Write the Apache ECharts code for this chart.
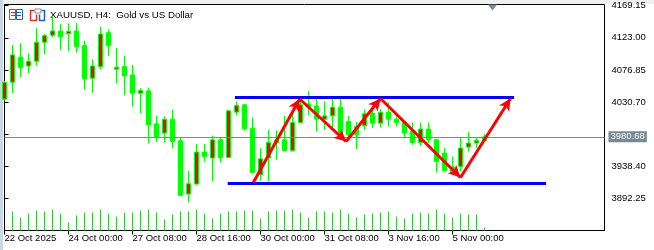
<!DOCTYPE html>
<html><head><meta charset="utf-8">
<script src="https://cdn.jsdelivr.net/npm/echarts@6/dist/echarts.min.js"></script>
<style>html,body{margin:0;padding:0;background:#fff}#c{width:654px;height:250px}</style>
</head><body><div id="c"></div>
<script>
// ---- bar times (H4) ----
const H6 = ['00:00','04:00','08:00','12:00','16:00','20:00'];
const sessions = [
  ['22 Oct', ['16:00','20:00']],
  ['23 Oct', H6], ['24 Oct', H6], ['27 Oct', H6], ['28 Oct', H6], ['29 Oct', H6],
  ['30 Oct', H6], ['31 Oct', H6], ['3 Nov', H6], ['4 Nov', H6],
  ['5 Nov', ['00:00','04:00','08:00','12:00','16:00']]
];
const futureSlots = 15;

// ---- OHLC ----
const opens  = [4034.9,4059.2,4095.1,4082.6,4089.4,4116.6,4126.7,4132.9,4129.0,4132.9,
                4111.8,4065.0,4081.6,4130.4,4077.9,4081.6,4069.7,4043.5,4046.8,3999.4,
                3986.1,4006.1,3975.0,3898.6,3912.9,3958.8,3950.2,3976.5,3951.1,4016.2,
                4026.7,3993.2,3926.3,3950.2,3972.0,3976.5,3961.1,4001.3,4028.0,4025.2,
                4006.1,4010.9,4023.4,4002.7,3995.6,3996.6,4014.8,4000.4,4016.2,4006.1,
                4001.3,3988.4,3972.6,3991.8,3976.5,3957.4,3937.3,3938.2,3966.0,3971.7,
                3975.5];
const closes = [4059.2,4098.4,4080.2,4089.4,4116.6,4126.1,4132.9,4124.7,4132.4,4110.3,
                4064.0,4082.6,4128.5,4111.8,4080.8,4068.3,4043.5,4047.2,3998.0,3980.3,
                4006.1,3974.0,3896.6,3913.3,3958.8,3952.5,3976.5,3951.1,4018.1,4025.7,
                3992.2,3929.6,3949.2,3972.6,3976.0,3961.1,4001.3,4026.7,4024.0,4006.1,
                4010.9,4023.4,3986.1,3983.6,3983.6,4013.8,4000.4,4016.2,4006.1,4001.3,
                3986.1,3972.6,3991.8,3976.5,3945.4,3932.4,3928.7,3964.6,3971.7,3975.5,
                3980.68];
const lows   = [4033.0,4043.5,4066.4,4072.2,4083.1,4099.4,4123.8,4105.6,4104.2,4101.7,
                4048.2,4044.3,4077.9,4097.0,4057.8,4041.0,4024.2,4014.8,3971.7,3973.6,
                3972.5,3964.0,3896.0,3886.5,3911.9,3945.3,3916.6,3943.9,3950.0,4012.3,
                3989.8,3929.0,3917.6,3916.6,3947.8,3960.0,3959.7,4000.4,4012.0,3988.4,
                3990.8,3991.8,3983.6,3980.8,3963.1,3990.8,3993.2,3994.1,3995.6,3995.6,
                3978.9,3969.3,3967.9,3971.7,3929.6,3931.0,3926.3,3930.5,3959.7,3964.6,
                3973.0];
const highs  = [4061.0,4112.8,4115.2,4100.9,4136.7,4128.5,4153.4,4142.9,4143.9,4144.8,
                4118.9,4092.2,4139.0,4135.3,4108.5,4097.0,4084.1,4050.6,4051.5,4010.9,
                4009.9,4019.5,3979.8,3932.0,3970.7,3970.7,3982.2,3980.3,4019.0,4031.4,
                4027.5,4008.5,3964.6,3990.8,3990.0,4010.9,4015.6,4036.3,4046.8,4039.6,
                4031.4,4035.3,4035.3,4010.9,4002.3,4019.5,4025.2,4020.9,4030.0,4009.9,
                4002.7,4001.3,4001.3,4001.3,3977.5,3964.6,3952.5,3979.8,3987.5,3978.9,
                3985.0];
// tick volumes (first bar hidden under the frame)
const volumes = [null,19000,13000,17000,20000,19000,21000,17000,8000,15000,
                 18000,18000,21000,17000,14000,18000,18000,20000,21000,18000,
                 11000,16000,19000,19000,21000,17000,12000,17000,19000,19000,
                 20000,20000,12000,19000,20000,20000,21000,18000,13000,19000,
                 19000,18000,21000,17000,13000,16000,17000,18000,19000,14000,
                 12000,17000,18000,17000,21000,17000,13000,17000,16000,16000,
                 3000];

// ---- axes text ----
const tickLabels = ['22 Oct 2025','24 Oct 00:00','27 Oct 08:00','28 Oct 16:00',
                    '30 Oct 00:00','31 Oct 08:00','3 Nov 16:00','5 Nov 00:00'];
const priceTicks = [3892.25,3938.40,3984.55,4030.70,4076.85,4123.00,4169.15];
const priceLabelValues = [3892.25,3938.40,4030.70,4076.85,4123.00,4169.15];
const currentPrice = 3980.68;
const title = 'XAUUSD, H4:  Gold vs US Dollar';

// ---- drawn objects (bar index, price) ----
const channelTop = [[28.8,4037.0],[63.7,4037.0]];
const channelBottom = [[27.9,3913.9],[67.7,3913.9]];
const zigzag = [[31.1,3915.1],[36.9,4035.1],[42.7,3974.0],[47.0,4035.8],[57.0,3922.3],[63.25,4035.8]];

// ---- build ----
const categories = [];
sessions.forEach(([d, hrs]) => hrs.forEach(h => categories.push(d + ' ' + h)));
for (let i = 0; i < futureSlots; i++) categories.push('');
const bars = opens.map((o, i) => [o, closes[i], lows[i], highs[i]]);
const tickShown = (i) => i % 8 === 0 && i / 8 < tickLabels.length;
const lastIndex = opens.length - 1;

const zigSegments = [];
for (let i = 0; i < zigzag.length - 1; i++) {
  zigSegments.push([{coord: zigzag[i], symbol: 'none'}, {coord: zigzag[i + 1], symbol: 'arrow'}]);
}

const hiddenAxis = {show: false, axisLine: {show: false}, axisTick: {show: false}, axisLabel: {show: false}, splitLine: {show: false}};
const FONT = 'Liberation Sans';
const chart = echarts.init(document.getElementById('c'), null, {renderer: 'canvas'});
chart.setOption({
  animation: false,
  backgroundColor: '#fff',
  grid: {left: 4.5, right: 49.5, top: 4.5, bottom: 19.5, show: true, borderColor: '#000', borderWidth: 1, backgroundColor: '#fff'},
  xAxis: [
    {type: 'category', data: categories, boundaryGap: false,
     axisLine: {show: true, lineStyle: {color: '#000', width: 1}},
     axisTick: {show: true, interval: tickShown, length: 4, lineStyle: {color: '#000'}},
     axisLabel: {interval: tickShown, showMinLabel: true, formatter: (v, i) => tickLabels[i / 8] || '',
                 align: 'left', margin: 3, color: '#000', fontSize: 9.5, fontFamily: FONT},
     splitLine: {show: false}},
    Object.assign({type: 'value', min: 0, max: categories.length - 1}, hiddenAxis)
  ],
  yAxis: [
    {type: 'value', position: 'right', min: 3846.10, max: 4170.9,
     axisLine: {show: true, lineStyle: {color: '#000'}},
     axisTick: {show: true, length: 4, customValues: priceTicks, lineStyle: {color: '#000'}},
     axisLabel: {customValues: priceLabelValues, formatter: v => v.toFixed(2), margin: 7,
                 color: '#000', fontSize: 9.5, fontFamily: FONT},
     splitLine: {show: false}},
    Object.assign({type: 'value', min: 0, max: 226000, position: 'right'}, hiddenAxis)
  ],
  series: [
    {type: 'line', xAxisIndex: 1, yAxisIndex: 0, data: [], z: 1, silent: true,
     markLine: {silent: true, symbol: 'none', animation: false,
       lineStyle: {color: '#778899', width: 1, type: 'solid'},
       label: {show: true, position: 'end', formatter: currentPrice.toFixed(2), distance: 4,
               backgroundColor: '#778899', color: '#fff', padding: [1, 2, 0, 2],
               fontSize: 9.5, fontFamily: FONT},
       emphasis: {disabled: true},
       data: [{yAxis: currentPrice}]}},
    {type: 'bar', xAxisIndex: 0, yAxisIndex: 1, data: volumes, barWidth: 1, z: 2, silent: true,
     itemStyle: {color: '#32cd32'}},
    {type: 'candlestick', xAxisIndex: 0, yAxisIndex: 0, data: bars, barWidth: 4, z: 3, silent: true, clip: true,
     itemStyle: {color: '#ff0000', color0: '#00ff00', borderColor: '#00ff00', borderColor0: '#00ff00', borderWidth: 1},
     markPoint: {silent: true, symbol: 'triangle', symbolRotate: 180, symbolSize: [9, 6], symbolOffset: [0, 3],
       itemStyle: {color: '#778899'}, label: {show: false},
       data: [{coord: [lastIndex + 1, 4170.9]}]}},
    {type: 'line', xAxisIndex: 1, yAxisIndex: 0, data: [], z: 5, silent: true,
     markLine: {silent: true, symbol: 'none', animation: false, label: {show: false},
       lineStyle: {color: '#0000ff', width: 3, type: 'solid'}, emphasis: {disabled: true},
       data: [[{coord: channelTop[0]}, {coord: channelTop[1]}], [{coord: channelBottom[0]}, {coord: channelBottom[1]}]]}},
    {type: 'line', xAxisIndex: 1, yAxisIndex: 0, data: [], z: 6, silent: true,
     markLine: {silent: true, symbolSize: [9, 12], animation: false, label: {show: false},
       lineStyle: {color: '#ff0000', width: 3, type: 'solid'}, emphasis: {disabled: true},
       data: zigSegments}}
  ],
  graphic: [
    {type: 'rect', shape: {x: 0, y: 0, width: 654, height: 4}, style: {fill: '#f0f0f0'}, silent: true},
    {type: 'rect', shape: {x: 0, y: 0, width: 3, height: 250}, style: {fill: '#c9d7e6'}, silent: true},
    // icon 1
    {type: 'rect', shape: {x: 9.5, y: 9.5, width: 6, height: 10}, style: {fill: '#fff', stroke: '#e03030', lineWidth: 1}, silent: true},
    {type: 'rect', shape: {x: 16.5, y: 9.5, width: 6, height: 10}, style: {fill: '#fff', stroke: '#2060c0', lineWidth: 1}, silent: true},
    {type: 'polyline', shape: {points: [[11, 12.5], [15, 12.5]]}, style: {stroke: '#e03030', lineWidth: 1}, silent: true},
    {type: 'polyline', shape: {points: [[11, 15.5], [15, 15.5]]}, style: {stroke: '#e03030', lineWidth: 1}, silent: true},
    {type: 'polyline', shape: {points: [[17, 12.5], [21, 12.5]]}, style: {stroke: '#2060c0', lineWidth: 1}, silent: true},
    {type: 'polyline', shape: {points: [[17, 15.5], [21, 15.5]]}, style: {stroke: '#2060c0', lineWidth: 1}, silent: true},
    // icon 2
    {type: 'polyline', shape: {points: [[34.5, 10.5], [30.5, 10.5], [30.5, 20.5], [36.5, 20.5], [36.5, 14.5]]}, style: {stroke: '#e03030', lineWidth: 1.5, fill: null}, silent: true},
    {type: 'polyline', shape: {points: [[39.5, 14.5], [39.5, 20.5], [44.5, 20.5], [44.5, 10.5], [41.5, 10.5]]}, style: {stroke: '#2060c0', lineWidth: 1.5, fill: null}, silent: true},
    {type: 'rect', shape: {x: 35, y: 9, width: 6, height: 4}, style: {fill: '#fff', stroke: '#8090a0', lineWidth: 1}, silent: true},
    {type: 'text', x: 50, y: 15.5, style: {text: title, fill: '#000', font: '9.7px "Liberation Sans"', textVerticalAlign: 'middle'}, silent: true}
  ]
});
</script></body></html>
